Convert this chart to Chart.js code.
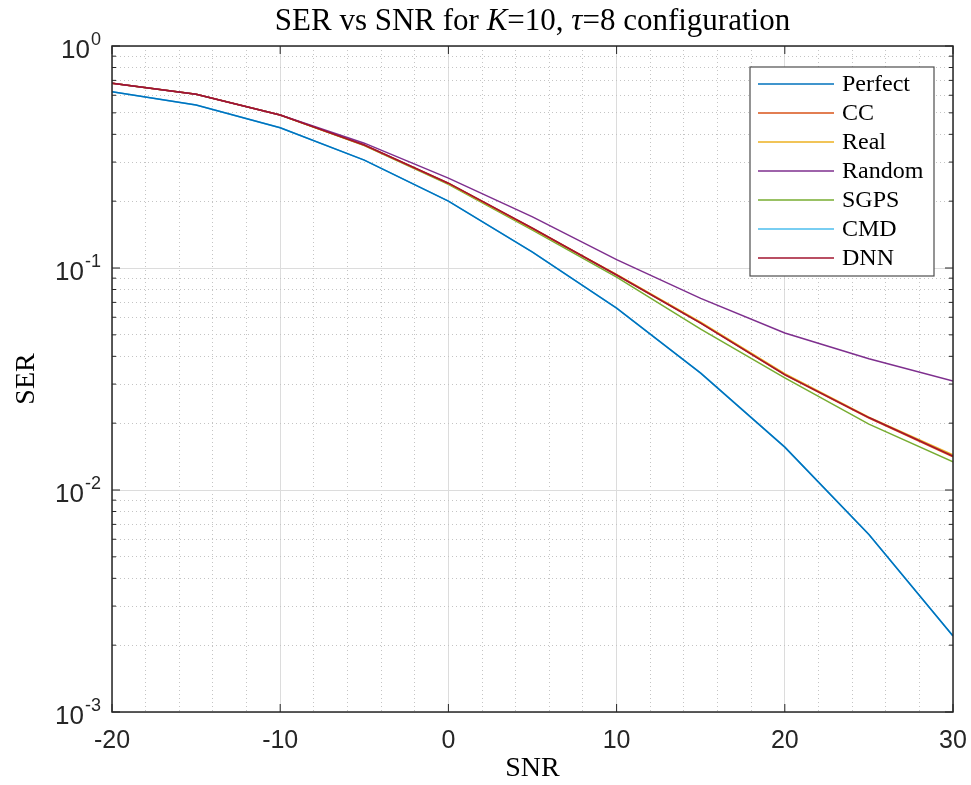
<!DOCTYPE html>
<html>
<head>
  <title>SER vs SNR</title>
  <script src="https://cdn.jsdelivr.net/npm/chart.js"></script>
  <style>
    body {
      margin: 0;
      background-color: #fff;
    }
    #wrap {
      width: 971px;
      height: 785px;
      position: relative;
    }
  </style>
</head>
<body>
  <div id="wrap">
    <canvas id="serChart" width="971" height="785"></canvas>
  </div>

  <script>
    // SNR points (dB)
    const snr = [-20, -15, -10, -5, 0, 5, 10, 15, 20, 25, 30];

    // SER values
    const serPerfect = [0.623, 0.542, 0.428, 0.306, 0.200, 0.118, 0.066, 0.0336, 0.0156, 0.0063, 0.0022];
    const serCC      = [0.679, 0.606, 0.489, 0.358, 0.241, 0.151, 0.093, 0.0565, 0.0330, 0.0211, 0.0141];
    const serReal    = [0.679, 0.606, 0.489, 0.357, 0.240, 0.150, 0.0935, 0.0570, 0.0334, 0.0213, 0.0144];
    const serRandom  = [0.679, 0.606, 0.489, 0.365, 0.254, 0.170, 0.109, 0.073, 0.051, 0.039, 0.031];
    const serSGPS    = [0.679, 0.606, 0.489, 0.356, 0.238, 0.148, 0.091, 0.053, 0.032, 0.0198, 0.0134];
    const serCMD     = [0.623, 0.542, 0.428, 0.306, 0.200, 0.118, 0.066, 0.0336, 0.0156, 0.0063, 0.0022];
    const serDNN     = [0.679, 0.606, 0.489, 0.358, 0.241, 0.151, 0.093, 0.0565, 0.0331, 0.0212, 0.0142];

    const seriesNames = ['Perfect', 'CC', 'Real', 'Random', 'SGPS', 'CMD', 'DNN'];
    const seriesData = [serPerfect, serCC, serReal, serRandom, serSGPS, serCMD, serDNN];
    const seriesColors = ['#0072BD', '#D95319', '#EDB120', '#7E2F8E', '#77AC30', '#4DBEEE', '#A2142F'];
    // lower = drawn on top
    const seriesOrder = [1, 3, 4, 2, 5, 6, 0];

    const xMin = -20, xMax = 30;
    const yMin = 1e-3, yMax = 1;
    const yDecades = [-3, -2, -1, 0];

    const sansFont = "'Liberation Sans', Arial, Helvetica, sans-serif";
    const serifFont = "'Liberation Serif', 'Times New Roman', serif";
    const inkColor = '#262626';

    // 1..9 x 10^e tick positions for the log axis
    const yTickValues = [];
    yDecades.forEach(e => {
      for (let m = 1; m <= 9; m++) {
        const v = m * Math.pow(10, e);
        if (v <= yMax * 1.0001) yTickValues.push(v);
      }
    });

    function isDecade(v) {
      const l = Math.log10(v);
      return Math.abs(l - Math.round(l)) < 1e-9;
    }

    // title with italic K and tau
    const titlePlugin = {
      id: 'mixedTitle',
      afterDraw(chart) {
        const ctx = chart.ctx;
        const parts = [
          ['SER vs SNR for ', 'normal'],
          ['K', 'italic'],
          ['=10, ', 'normal'],
          ['\u03C4', 'italic'],
          ['=8 configuration', 'normal']
        ];
        ctx.save();
        ctx.fillStyle = '#000';
        ctx.textBaseline = 'middle';
        let total = 0;
        parts.forEach(p => {
          ctx.font = p[1] + ' 31px ' + serifFont;
          total += ctx.measureText(p[0]).width;
        });
        const area = chart.chartArea;
        let x = (area.left + area.right) / 2 - total / 2;
        parts.forEach(p => {
          ctx.font = p[1] + ' 31px ' + serifFont;
          ctx.fillText(p[0], x, 22);
          x += ctx.measureText(p[0]).width;
        });
        ctx.restore();
      }
    };

    // y tick labels as 10 with a raised exponent
    const powerLabelPlugin = {
      id: 'powerLabels',
      afterDraw(chart) {
        const ctx = chart.ctx;
        const ys = chart.scales.y;
        const right = chart.chartArea.left - 11;
        ctx.save();
        ctx.fillStyle = inkColor;
        ctx.textBaseline = 'middle';
        yDecades.forEach(e => {
          const py = ys.getPixelForValue(Math.pow(10, e));
          const expText = String(e);
          ctx.font = '18px ' + sansFont;
          ctx.textAlign = 'right';
          ctx.fillText(expText, right, py - 6);
          const expW = ctx.measureText(expText).width;
          ctx.font = '26px ' + sansFont;
          ctx.fillText('10', right - expW - 1, py + 5);
        });
        ctx.restore();
      }
    };

    // axes box and inward tick marks, like the original figure
    const boxPlugin = {
      id: 'axesBox',
      afterDatasetsDraw(chart) {
        const ctx = chart.ctx;
        const a = chart.chartArea;
        const xs = chart.scales.x;
        const ys = chart.scales.y;
        ctx.save();
        ctx.strokeStyle = inkColor;
        ctx.lineWidth = 1;
        ctx.beginPath();
        xs.ticks.forEach(t => {
          if (t.value % 10 !== 0) return;
          const px = xs.getPixelForValue(t.value);
          ctx.moveTo(px, a.bottom); ctx.lineTo(px, a.bottom - 8);
          ctx.moveTo(px, a.top); ctx.lineTo(px, a.top + 8);
        });
        yTickValues.forEach(v => {
          const py = ys.getPixelForValue(v);
          const len = isDecade(v) ? 8 : 4;
          ctx.moveTo(a.left, py); ctx.lineTo(a.left + len, py);
          ctx.moveTo(a.right, py); ctx.lineTo(a.right - len, py);
        });
        ctx.stroke();
        ctx.lineWidth = 1.5;
        ctx.strokeRect(a.left, a.top, a.right - a.left, a.bottom - a.top);
        ctx.restore();
      }
    };

    // legend box in the upper right corner of the plot
    const legendPlugin = {
      id: 'boxLegend',
      afterDraw(chart) {
        const ctx = chart.ctx;
        const a = chart.chartArea;
        const w = 184, h = 209;
        const left = a.right - 19 - w;
        const top = a.top + 21;
        ctx.save();
        ctx.fillStyle = '#fff';
        ctx.fillRect(left, top, w, h);
        ctx.strokeStyle = '#4d4d4d';
        ctx.lineWidth = 1.2;
        ctx.strokeRect(left, top, w, h);
        ctx.font = '24px ' + serifFont;
        ctx.textBaseline = 'middle';
        seriesNames.forEach((name, i) => {
          const y = top + 17 + i * 29;
          ctx.strokeStyle = seriesColors[i];
          ctx.lineWidth = 1.5;
          ctx.beginPath();
          ctx.moveTo(left + 8, y);
          ctx.lineTo(left + 84, y);
          ctx.stroke();
          ctx.fillStyle = '#000';
          ctx.fillText(name, left + 92, y + 1);
        });
        ctx.restore();
      }
    };

    function createChart() {
      const ctx = document.getElementById('serChart').getContext('2d');

      const datasets = seriesNames.map((name, i) => ({
        label: name,
        data: snr.map((x, j) => ({ x: x, y: seriesData[i][j] })),
        borderColor: seriesColors[i],
        backgroundColor: seriesColors[i],
        borderWidth: 1.5,
        pointRadius: 0,
        fill: false,
        tension: 0,
        order: seriesOrder[i]
      }));

      new Chart(ctx, {
        type: 'line',
        data: { datasets: datasets },
        plugins: [titlePlugin, boxPlugin, legendPlugin, powerLabelPlugin],
        options: {
          responsive: false,
          animation: false,
          layout: { padding: { top: 46, right: 18, left: 0, bottom: 0 } },
          plugins: {
            legend: { display: false },
            title: { display: false },
            tooltip: { enabled: false }
          },
          scales: {
            x: {
              type: 'linear',
              min: xMin,
              max: xMax,
              afterFit: s => { s.height = 73; s.paddingLeft = 0; s.paddingRight = 0; },
              ticks: {
                stepSize: 2,
                autoSkip: false,
                maxRotation: 0,
                padding: 14,
                color: inkColor,
                font: { family: sansFont, size: 25 },
                callback: v => (v % 10 === 0 ? String(v) : '')
              },
              grid: {
                drawTicks: false,
                color: c => (c.tick && c.tick.value % 10 === 0 ? '#dcdcdc' : '#c4c4c4'),
                lineWidth: 1
              },
              border: {
                display: false,
                dash: c => (c.tick && c.tick.value % 10 !== 0 ? [1, 3] : [])
              },
              title: {
                display: true,
                text: 'SNR',
                color: '#000',
                font: { family: serifFont, size: 28 },
                padding: { top: 0, bottom: 0 }
              }
            },
            y: {
              type: 'logarithmic',
              min: yMin,
              max: yMax,
              afterFit: s => { s.width = 112; s.paddingTop = 0; s.paddingBottom = 0; },
              afterBuildTicks: s => { s.ticks = yTickValues.map(v => ({ value: v })); },
              ticks: {
                display: false,
                autoSkip: false
              },
              grid: {
                drawTicks: false,
                color: c => (c.tick && isDecade(c.tick.value) ? '#dcdcdc' : '#c4c4c4'),
                lineWidth: 1
              },
              border: {
                display: false,
                dash: c => (c.tick && !isDecade(c.tick.value) ? [1, 3] : [])
              },
              title: {
                display: true,
                text: 'SER',
                color: '#000',
                font: { family: serifFont, size: 28 },
                padding: { top: 10, bottom: 0 }
              }
            }
          }
        }
      });
    }

    window.onload = function() {
      createChart();
    };
  </script>
</body>
</html>
